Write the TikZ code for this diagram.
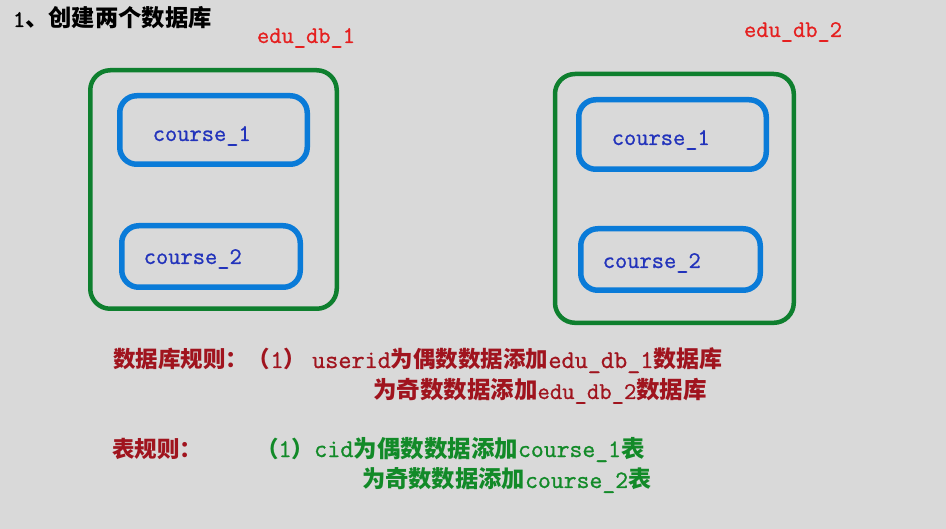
\documentclass[tikz,border=0pt]{standalone}
\usepackage{fontspec}
\usetikzlibrary{positioning}
\newfontfamily\zhfont{Noto Sans CJK SC}
\newfontfamily\latfont{Latin Modern Mono}[FakeBold=1]
\definecolor{bgcol}{HTML}{D9D9D9}
\definecolor{dbgreen}{HTML}{0E7F2E}
\definecolor{tblblue}{HTML}{0A7BD8}
\definecolor{tbltxt}{HTML}{2233BB}
\definecolor{dbred}{HTML}{E52020}
\definecolor{rulered}{HTML}{A0141E}
\definecolor{rulegreen}{HTML}{128A28}
\newcommand\zh[2][22.5]{{\zhfont\bfseries\fontsize{#1}{#1}\selectfont #2}}
\newcommand\en[2][25.5]{{\latfont\fontsize{#1}{#1}\selectfont #2}}

\begin{document}
\begin{tikzpicture}[x=1pt, y=-1pt,
    every node/.style={inner sep=0pt, outer sep=0pt},
    dbbox/.style={draw=dbgreen, line width=4.5pt, rounded corners=20pt},
    tblbox/.style={draw=tblblue, line width=5.5pt, rounded corners=17pt},
    tbllabel/.style={text=tbltxt, anchor=base west, font=\latfont\fontsize{23.8}{24}\selectfont},
    dblabel/.style={text=dbred, anchor=base west, font=\latfont\fontsize{23.8}{24}\selectfont}]
    \fill[bgcol] (0,0) rectangle (946,529);

    % title
    \node[anchor=base west] (title) at (13,27) {\en[24]{1}\zh[23.3]{、创建两个数据库}};

    % two databases
    \node[dbbox, minimum width=246.5pt, minimum height=238.5pt] (db1) at (213.5,189.5) {};
    \node[dbbox, minimum width=238.8pt, minimum height=248.8pt] (db2) at (674.4,198.4) {};
    \node[dblabel] (db1name) at (257,43) {edu\_db\_1};
    \node[dblabel] (db2name) at (744,37) {edu\_db\_2};

    % tables
    \node[tblbox, minimum width=187.5pt, minimum height=68.5pt] (c11) at (213.5,130) {};
    \node[tblbox, minimum width=178.5pt, minimum height=61.5pt] (c12) at (211,256.5) {};
    \node[tblbox, minimum width=187.5pt, minimum height=69.5pt] (c21) at (672.5,134.5) {};
    \node[tblbox, minimum width=179.5pt, minimum height=61.5pt] (c22) at (670.5,259.5) {};
    \node[tbllabel] (t11) at ([xshift=33pt, yshift=-11pt]c11.west) {course\_1};
    \node[tbllabel] (t12) at ([xshift=22pt, yshift=-7.5pt]c12.west) {course\_2};
    \node[tbllabel] (t21) at ([xshift=33pt, yshift=-10.5pt]c21.west) {course\_1};
    \node[tbllabel] (t22) at ([xshift=22pt, yshift=-8.5pt]c22.west) {course\_2};

    % rules
    \node[anchor=base west, text=rulered] (dbrule1) at (113,368)
        {\zh{数据库规则：}\zh{（}\en{1}\zh{）}\hspace{6pt}\en{userid}\zh{为偶数数据添加}\en{edu\_db\_1}\zh[23]{数据库}};
    \node[anchor=base west, text=rulered] (dbrule2) at (373,399)
        {\zh[23.5]{为奇数数据添加}\en[24]{edu\_db\_2}\zh[23.5]{数据库}};
    \node[anchor=base west, text=rulered] (tblrule) at (112,457) {\zh{表规则：}};
    \node[anchor=base west, text=rulegreen] (tblrule1) at (256,457)
        {\zh{（}\en{1}\zh{）}\en{cid}\zh[23.5]{为偶数数据添加}\en[25]{course\_1}\zh[23.5]{表}};
    \node[anchor=base west, text=rulegreen] (tblrule2) at (362,488)
        {\zh[23.3]{为奇数数据添加}\en[25]{course\_2}\zh[23]{表}};
\end{tikzpicture}
\end{document}
